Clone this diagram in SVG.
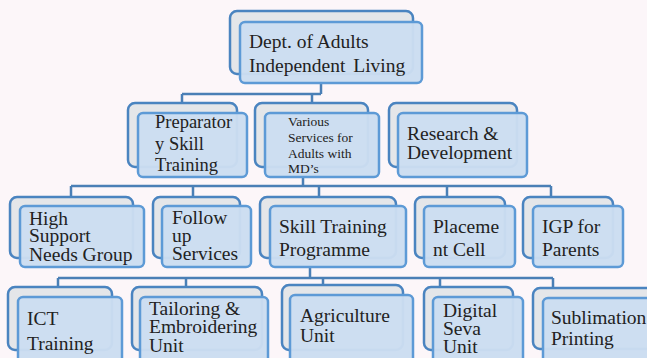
<svg xmlns="http://www.w3.org/2000/svg" width="647" height="358" viewBox="0 0 647 358">
<style>
.bg{fill:#fcf6f9}
.back{fill:#e4e6e9;stroke:#4a84c0;stroke-width:2.5}
.front{fill:#cbddf1;stroke:#5d9ad6;stroke-width:2.5;fill-opacity:0.97}
.conn{fill:none;stroke:#4a7fb6;stroke-width:2.5}
text{font-family:"Liberation Serif","Times New Roman",serif;fill:#222;font-size:19.5px}
.s{font-size:18.5px}
.xs{font-size:13.5px}
</style>
<rect class="bg" x="0" y="0" width="647" height="358"/>
<g id="connectors" class="conn">
<path d="M321 83V94M182 94H321M182 94V103M312 94V103"/>
<path d="M303 177V186M71 186H551M71 186V197M193 186V197M319 186V197M447 186V197M551 186V197"/>
<path d="M310 267V278M58 278H553M58 278V287M186 278V287M323 278V287M440 278V287M553 278V287"/>
</g>
<g id="n-dept">
<rect class="back" x="230" y="11" width="183" height="63" rx="7"/>
<rect class="front" x="240" y="22" width="182" height="61" rx="5"/>
<text x="249" y="48" font-size="20">Dept. of Adults</text>
<text x="249" y="72" font-size="20" word-spacing="3">Independent Living</text>
</g>
<g id="n-prep">
<rect class="back" x="128" y="103" width="109" height="64" rx="7"/>
<rect class="front" x="138" y="113" width="109" height="64" rx="5"/>
<text class="s" x="155" y="128">Preparator</text>
<text class="s" x="155" y="150">y Skill</text>
<text class="s" x="155" y="171">Training</text>
</g>
<g id="n-various">
<rect class="back" x="255" y="103" width="113" height="64" rx="7"/>
<rect class="front" x="265" y="113" width="114" height="64" rx="5"/>
<text class="xs" x="288" y="126">Various</text>
<text class="xs" x="288" y="142">Services for</text>
<text class="xs" x="288" y="158">Adults with</text>
<text class="xs" x="288" y="173">MD’s</text>
</g>
<g id="n-research">
<rect class="back" x="389" y="103" width="128" height="64" rx="7"/>
<rect class="front" x="398" y="113" width="129" height="64" rx="5"/>
<text x="407" y="140" font-size="20">Research &amp;</text>
<text x="407" y="159" font-size="20">Development</text>
</g>
<g id="n-high">
<rect class="back" x="10" y="197" width="123" height="61" rx="7"/>
<rect class="front" x="20" y="206" width="124" height="61" rx="5"/>
<text x="29" y="225">High</text>
<text x="29" y="242">Support</text>
<text x="29" y="261">Needs Group</text>
</g>
<g id="n-follow">
<rect class="back" x="153" y="197" width="87" height="61" rx="7"/>
<rect class="front" x="162" y="206" width="89" height="61" rx="5"/>
<text x="172" y="224">Follow</text>
<text x="172" y="242">up</text>
<text x="172" y="260">Services</text>
</g>
<g id="n-skill">
<rect class="back" x="260" y="197" width="136" height="61" rx="7"/>
<rect class="front" x="270" y="206" width="136" height="61" rx="5"/>
<text x="279" y="233" font-size="20">Skill Training</text>
<text x="279" y="256" font-size="20">Programme</text>
</g>
<g id="n-placement">
<rect class="back" x="415" y="197" width="90" height="61" rx="7"/>
<rect class="front" x="424" y="206" width="91" height="61" rx="5"/>
<text x="433" y="233" font-size="20">Placeme</text>
<text x="433" y="256" font-size="20">nt Cell</text>
</g>
<g id="n-igp">
<rect class="back" x="523" y="197" width="90" height="61" rx="7"/>
<rect class="front" x="533" y="206" width="90" height="61" rx="5"/>
<text x="542" y="233" font-size="20">IGP for</text>
<text x="542" y="256" font-size="20">Parents</text>
</g>
<g id="n-ict">
<rect class="back" x="8" y="287" width="104" height="63" rx="7"/>
<rect class="front" x="18" y="297" width="104" height="75" rx="5"/>
<text x="27" y="325">ICT</text>
<text x="27" y="350">Training</text>
</g>
<g id="n-tailoring">
<rect class="back" x="132" y="287" width="130" height="63" rx="7"/>
<rect class="front" x="140" y="297" width="128" height="75" rx="5"/>
<text x="149" y="315">Tailoring &amp;</text>
<text x="149" y="333">Embroidering</text>
<text x="149" y="352">Unit</text>
</g>
<g id="n-agri">
<rect class="back" x="282" y="285" width="121" height="65" rx="7"/>
<rect class="front" x="290" y="295" width="123" height="77" rx="5"/>
<text x="300" y="322" font-size="20">Agriculture</text>
<text x="300" y="342" font-size="20">Unit</text>
</g>
<g id="n-digital">
<rect class="back" x="424" y="287" width="89" height="63" rx="7"/>
<rect class="front" x="433" y="297" width="90" height="75" rx="5"/>
<text x="443" y="317">Digital</text>
<text x="443" y="335">Seva</text>
<text x="443" y="353">Unit</text>
</g>
<g id="n-sublimation">
<rect class="back" x="533" y="288" width="120" height="61" rx="7"/>
<rect class="front" x="543" y="298" width="120" height="75" rx="5"/>
<text x="551" y="324" font-size="20">Sublimation</text>
<text x="551" y="345" font-size="20">Printing</text>
</g>
</svg>
